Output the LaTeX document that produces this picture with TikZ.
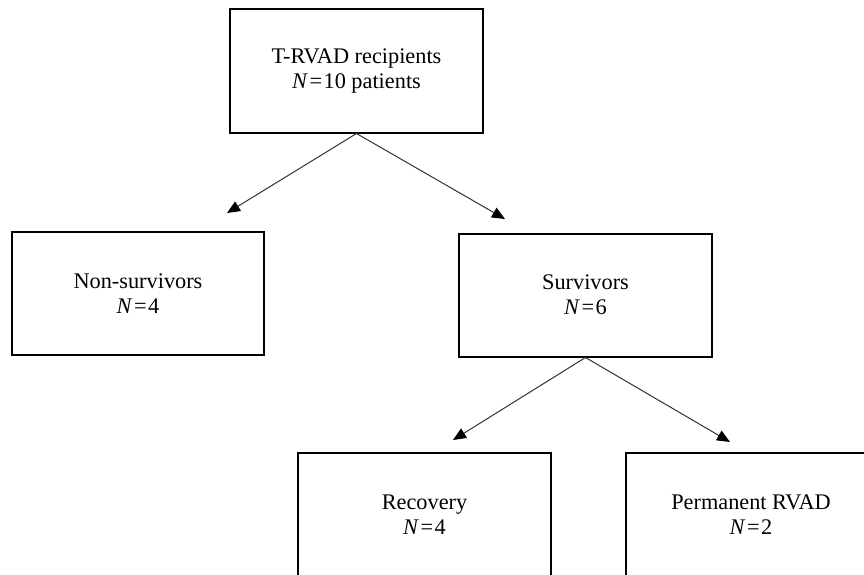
\documentclass[tikz,border=0pt]{standalone}
\usepackage{fontspec}
\setmainfont{Liberation Serif}
\usetikzlibrary{arrows.meta}
\begin{document}
\begin{tikzpicture}[x=1pt,y=-1pt,
  boxnode/.style={draw=black,line width=2pt,fill=white,align=center,
    font=\fontsize{22.3}{25}\selectfont,inner sep=0pt,minimum width=253pt,minimum height=124pt},
  arr/.style={draw=black!80,line width=1pt,-{Triangle[length=13pt,width=11pt,color=black]}}]
\useasboundingbox (0,0) rectangle (864,574);
\clip (0,0) rectangle (864,574);
\fill[white] (0,0) rectangle (864,574);
\node[boxnode] (top) at (356.5,70.5) {T-RVAD recipients\\\textit{N}\kern1.5pt=\kern1.5pt10 patients};
\node[boxnode,minimum width=252pt,minimum height=123pt] (non) at (138,293.5) {Non-survivors\\\textit{N}\kern1.5pt=\kern1.5pt4\ };
\node[boxnode,minimum height=123pt] (surv) at (585.5,295) {Survivors\\\textit{N}\kern1.5pt=\kern1.5pt6\ };
\node[boxnode,minimum height=125pt] (rec) at (424.5,515) {Recovery\\\textit{N}\kern1.5pt=\kern1.5pt4\ };
\node[boxnode,minimum width=250pt,minimum height=125pt] (perm) at (751,515) {Permanent RVAD\\\textit{N}\kern1.5pt=\kern1.5pt2};
\coordinate (t1) at (227,213);
\coordinate (t2) at (505,219);
\coordinate (t3) at (453,440);
\coordinate (t4) at (730,442);
\draw[arr] (top.south) -- (t1);
\draw[arr] (top.south) -- (t2);
\draw[arr] (surv.south) -- (t3);
\draw[arr] (surv.south) -- (t4);
\end{tikzpicture}
\end{document}
